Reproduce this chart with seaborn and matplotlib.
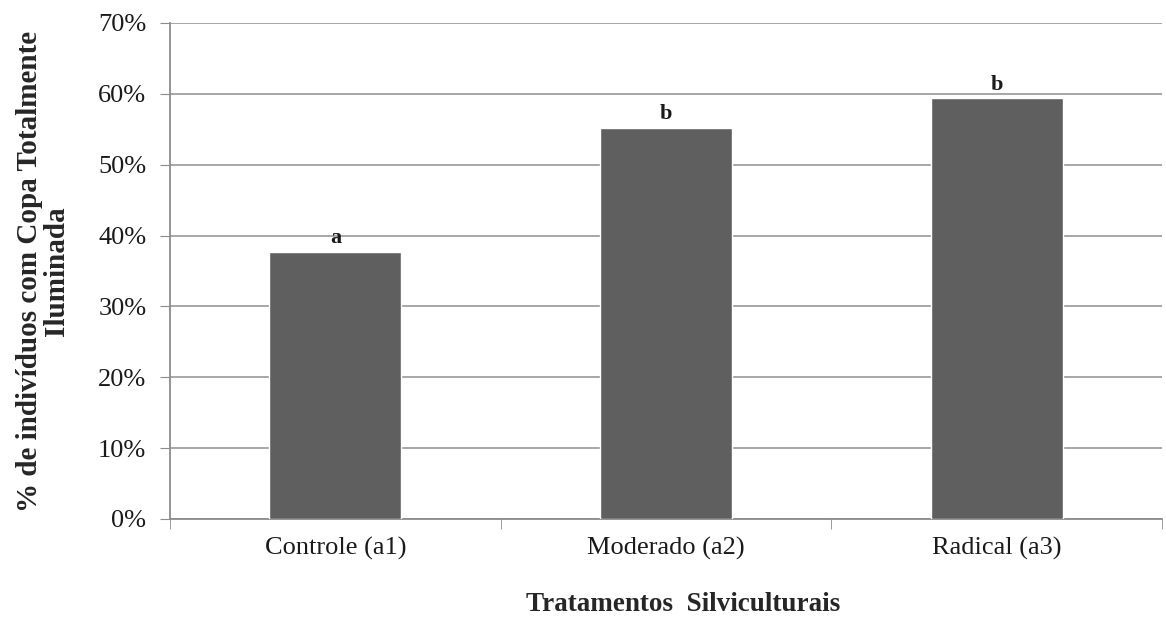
import pandas as pd
import matplotlib.pyplot as plt
import seaborn as sns
from matplotlib.ticker import FixedLocator, PercentFormatter

tratamentos = ['Controle (a1)', 'Moderado (a2)', 'Radical (a3)']
percentuais = [37.7, 55.2, 59.4]
letras = ['a', 'b', 'b']

df = pd.DataFrame({'tratamento': tratamentos, 'pct': percentuais})

sns.set_style('white')
plt.rcParams['font.family'] = ['Liberation Serif', 'DejaVu Serif']
plt.rcParams['text.color'] = '#1a1a1a'

fig = plt.figure(figsize=(11.66, 6.19), dpi=100)
ax = fig.add_axes([0.1458, 0.1616, 0.8508, 0.8013])

sns.barplot(data=df, x='tratamento', y='pct', color='#5f5f5f', saturation=1,
            width=0.40, ax=ax, zorder=3)

# significance letters above bars
for i, (v, l) in enumerate(zip(percentuais, letras)):
    ax.annotate(l, (i, v), xytext=(0, 2.5), textcoords='offset points',
                ha='center', va='bottom', fontsize=16, fontweight='bold')

ax.set_ylim(0, 70)
ax.set_xlim(-0.5, 2.5)
ax.set_yticks(range(0, 71, 10))
ax.yaxis.set_major_formatter(PercentFormatter(decimals=0))
ax.grid(axis='y', color='#a0a0a0', linewidth=1.3, zorder=0)

for s in ['top', 'right']:
    ax.spines[s].set_visible(False)
for s in ['left', 'bottom']:
    ax.spines[s].set_color('#8c8c8c')
    ax.spines[s].set_linewidth(1.3)

ax.tick_params(axis='y', length=7, color='#8c8c8c', labelsize=19, pad=10,
               left=True, labelcolor='#1a1a1a')
ax.tick_params(axis='x', which='major', length=0, labelsize=19, pad=13,
               labelcolor='#1a1a1a')
ax.xaxis.set_minor_locator(FixedLocator([-0.5, 0.5, 1.5, 2.5]))
ax.tick_params(axis='x', which='minor', length=7, color='#8c8c8c', bottom=True)

ax.set_xlabel('Tratamentos  Silviculturais', fontsize=19.5, fontweight='bold')
ax.xaxis.set_label_coords(0.517, -0.147)
ax.set_ylabel('% de indivíduos com Copa Totalmente\nIluminada', fontsize=21,
              fontweight='bold', linespacing=0.98)
ax.yaxis.set_label_coords(-0.101, 0.5)

fig.savefig('out.png', dpi=100)
